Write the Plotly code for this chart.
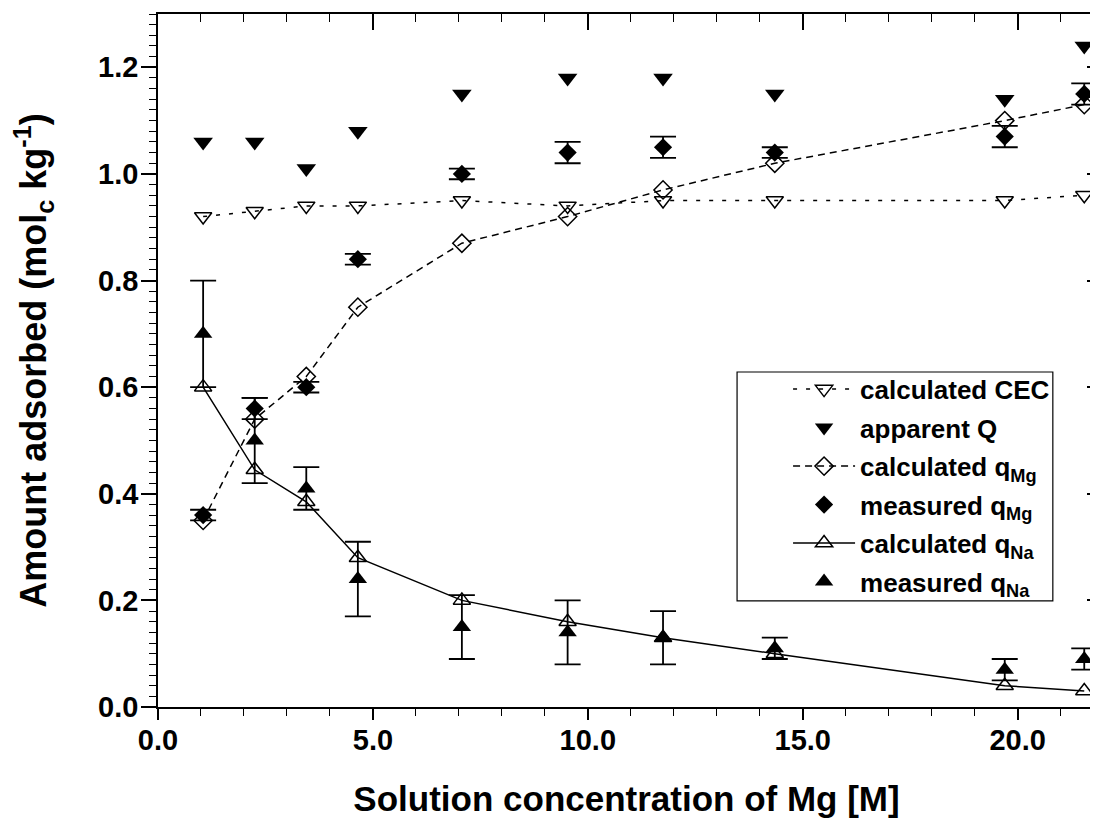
import plotly.graph_objects as go

# Solution concentration of Mg (x)
conc_mg = [1.05, 2.25, 3.45, 4.65, 7.07, 9.53, 11.75, 14.35, 19.70, 21.55]

calc_cec = [0.92, 0.93, 0.94, 0.94, 0.95, 0.94, 0.95, 0.95, 0.95, 0.96]
apparent_q = [1.06, 1.06, 1.01, 1.08, 1.15, 1.18, 1.18, 1.15, 1.14, 1.24]
calc_q_mg = [0.35, 0.54, 0.62, 0.75, 0.87, 0.92, 0.97, 1.02, 1.10, 1.13]
meas_q_mg = [0.36, 0.56, 0.60, 0.84, 1.00, 1.04, 1.05, 1.04, 1.07, 1.15]
meas_q_mg_err = [0.01, 0.02, 0.01, 0.01, 0.01, 0.02, 0.02, 0.01, 0.02, 0.02]
calc_q_na = [0.60, 0.445, 0.385, 0.28, 0.20, 0.16, 0.13, 0.10, 0.04, 0.03]
meas_q_na = [0.70, 0.50, 0.41, 0.24, 0.15, 0.14, 0.13, 0.11, 0.07, 0.09]
meas_q_na_err = [0.10, 0.08, 0.04, 0.07, 0.06, 0.06, 0.05, 0.02, 0.02, 0.02]

x_ticks_major = 5
y_ticks_major = 0.2

FONT = "Liberation Sans, Arial, Helvetica, sans-serif"
BLACK = "black"

fig = go.Figure()

err_style = dict(type="data", color=BLACK, thickness=1.8, width=13, visible=True)

fig.add_trace(go.Scatter(
    x=conc_mg, y=calc_cec, name="calculated CEC", mode="lines+markers",
    legendgroup="g1",
    line=dict(color=BLACK, width=1.5, dash="4px,9px"),
    marker=dict(symbol="triangle-down-open", size=15, color=BLACK, line=dict(width=1.5, color=BLACK)),
))
fig.add_trace(go.Scatter(
    x=conc_mg, y=apparent_q, name="apparent Q", mode="markers",
    legendgroup="g2",
    marker=dict(symbol="triangle-down", size=17, color=BLACK),
))
fig.add_trace(go.Scatter(
    x=conc_mg, y=calc_q_mg, name="calculated q<sub>Mg</sub>", mode="lines+markers",
    legendgroup="g3",
    line=dict(color=BLACK, width=1.5, dash="7px,5px"),
    marker=dict(symbol="diamond-open", size=14, color=BLACK, line=dict(width=1.5, color=BLACK)),
))
fig.add_trace(go.Scatter(
    x=conc_mg, y=meas_q_mg, name="measured q<sub>Mg</sub>", mode="markers",
    legendgroup="g4",
    marker=dict(symbol="diamond", size=14, color=BLACK),
    error_y=dict(array=meas_q_mg_err, **err_style),
))
fig.add_trace(go.Scatter(
    x=conc_mg, y=calc_q_na, name="calculated q<sub>Na</sub>", mode="lines+markers",
    legendgroup="g5",
    line=dict(color=BLACK, width=1.5),
    marker=dict(symbol="triangle-up-open", size=15, color=BLACK, line=dict(width=1.5, color=BLACK)),
))
fig.add_trace(go.Scatter(
    x=conc_mg, y=meas_q_na, name="measured q<sub>Na</sub>", mode="markers",
    legendgroup="g6",
    marker=dict(symbol="triangle-up", size=16, color=BLACK),
    error_y=dict(array=meas_q_na_err, **err_style),
))
# helper trace so that the mirrored (top/right) axes are drawn
fig.add_trace(go.Scatter(x=[None], y=[None], xaxis="x2", yaxis="y2",
                         showlegend=False, hoverinfo="skip"))

XR = [0, 21.8]
YR = [0, 1.3]

# legend frame (drawn as a shape so its size can follow the reference)
fig.add_shape(type="rect", xref="paper", yref="paper",
              x0=0.618, x1=0.955, y0=0.153, y1=0.4834,
              line=dict(color=BLACK, width=1.2), fillcolor="white", layer="above")

# the page body adds an 8px offset, so the figure is 8px smaller
fig.update_layout(
    width=1090, height=817,
    margin=dict(l=150, r=3, t=6, b=118, autoexpand=False),
    plot_bgcolor="white", paper_bgcolor="white",
    font=dict(family=FONT, color=BLACK),
    legend=dict(
        x=0.618, y=0.4925, xanchor="left", yanchor="top",
        borderwidth=0, bgcolor="rgba(0,0,0,0)",
        font=dict(size=26, family=FONT, weight="bold", color=BLACK),
        itemwidth=62, indentation=51, tracegroupgap=1.7,
    ),
    xaxis=dict(
        range=XR, showline=True, linecolor=BLACK, linewidth=1.5,
        ticks="outside", ticklen=11, tickwidth=1.5, tickcolor=BLACK,
        tick0=0, dtick=x_ticks_major, tickformat=".1f",
        tickfont=dict(size=29, family=FONT, weight="bold"),
        ticklabelstandoff=-5,
        minor=dict(dtick=1, ticks="outside", ticklen=7, tickwidth=1.2, tickcolor=BLACK),
        showgrid=False, zeroline=False,
        title=dict(text="Solution concentration of Mg [M]",
                   font=dict(size=35, family=FONT, weight="bold"), standoff=32),
    ),
    yaxis=dict(
        range=YR, showline=True, linecolor=BLACK, linewidth=1.5,
        ticks="outside", ticklen=15, tickwidth=1.5, tickcolor=BLACK,
        tick0=0, dtick=y_ticks_major, tickformat=".1f",
        tickfont=dict(size=29, family=FONT, weight="bold"),
        ticklabelstandoff=-3,
        minor=dict(dtick=0.02, ticks="outside", ticklen=7, tickwidth=1.2, tickcolor=BLACK),
        showgrid=False, zeroline=False,
        title=dict(text="Amount adsorbed (mol<sub>c</sub> kg<sup>-1</sup>)",
                   font=dict(size=36, family=FONT, weight="bold"), standoff=43),
    ),
    xaxis2=dict(
        range=XR, overlaying="x", side="top", anchor="y2",
        showline=True, linecolor=BLACK, linewidth=1.5,
        ticks="inside", ticklen=16, tickwidth=1.5, tickcolor=BLACK,
        tick0=0, dtick=x_ticks_major, showticklabels=False,
        minor=dict(dtick=1, ticks="inside", ticklen=8, tickwidth=1.2, tickcolor=BLACK),
        showgrid=False, zeroline=False,
    ),
    yaxis2=dict(
        range=YR, overlaying="y", side="right", anchor="x2",
        showline=True, linecolor=BLACK, linewidth=1.5,
        ticks="inside", ticklen=8, tickwidth=1.5, tickcolor=BLACK,
        tick0=0, dtick=y_ticks_major, showticklabels=False,
        minor=dict(dtick=0.02, ticks="inside", ticklen=4, tickwidth=1, tickcolor=BLACK),
        showgrid=False, zeroline=False,
    ),
)

fig.write_html("out.html")
